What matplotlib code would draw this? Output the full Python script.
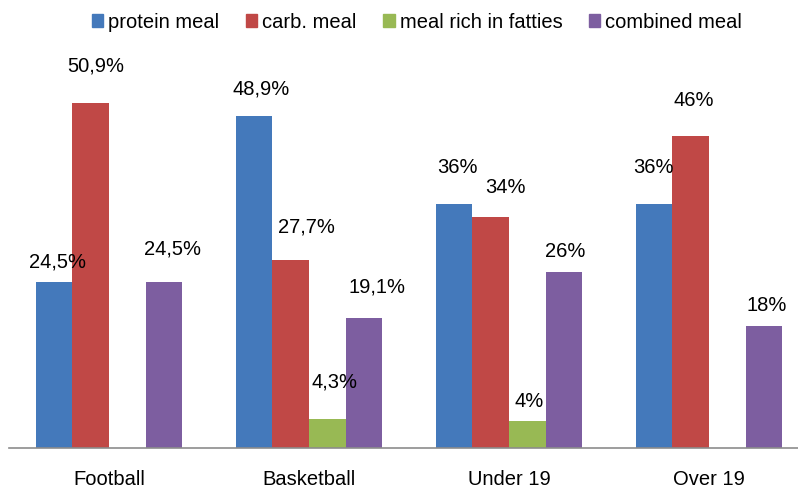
import numpy as np
import matplotlib.pyplot as plt
from matplotlib.patches import Patch

plt.rcParams['font.family'] = ['Liberation Sans', 'DejaVu Sans']

# groups and series values (%)
categories = ['Football', 'Basketball', 'Under 19', 'Over 19']
series_names = ['protein meal', 'carb. meal', 'meal rich in fatties', 'combined meal']
protein = [24.5, 48.9, 36, 36]
carb = [50.9, 27.7, 34, 46]
fat = [None, 4.3, 4, None]
combined = [24.5, 19.1, 26, 18]
labels = [
    ['24,5%', '48,9%', '36%', '36%'],
    ['50,9%', '27,7%', '34%', '46%'],
    [None, '4,3%', '4%', None],
    ['24,5%', '19,1%', '26%', '18%'],
]
colors = ['#4479bb', '#c04846', '#98b954', '#7d5ea0']

# label placement (pixels: right shift, gap above bar top)
label_offsets = [
    [(3, 14), (7, 22), (3, 31), (-1, 31)],
    [(5, 31), (16, 28), (15, 24), (3, 30)],
    [None, (7, 31), (2, 14), None],
    [(9, 27), (13, 26), (1, 15), (3, 15)],
]

fig = plt.figure(figsize=(7.98, 4.88), dpi=100)
ax = fig.add_axes([9 / 798, 40 / 488, 800 / 798, 407 / 488])

x = np.arange(len(categories))
w = 0.183
all_series = [protein, carb, fat, combined]
for i, vals in enumerate(all_series):
    pos = x + (i - 1.5) * w
    for j, v in enumerate(vals):
        if v is None:
            continue
        ax.bar(pos[j], v, width=w, color=colors[i], linewidth=0, zorder=1)
for i, vals in enumerate(all_series):
    pos = x + (i - 1.5) * w
    for j, v in enumerate(vals):
        if v is None:
            continue
        dx, dy = label_offsets[i][j]
        ax.annotate(labels[i][j], (pos[j], v), xytext=(dx, dy), textcoords='offset pixels',
                    ha='center', va='baseline', fontsize=14.5, zorder=3)

ax.set_xlim(-0.5, len(categories) - 0.5)
ax.set_ylim(0, 60)
ax.set_xticks(x)
ax.set_xticklabels(categories, fontsize=14.5)
ax.tick_params(axis='x', length=0, pad=16)
ax.set_yticks([])
for s in ['top', 'right', 'left']:
    ax.spines[s].set_visible(False)
ax.spines['bottom'].set_color('#8c8c8c')
ax.spines['bottom'].set_linewidth(1.2)

handles = [Patch(color=c, label=n) for c, n in zip(colors, series_names)]
fig.legend(handles=handles, loc='center', bbox_to_anchor=(417 / 798, 1 - 22 / 488), ncol=4,
           frameon=False, fontsize=14.5, handlelength=0.58, handleheight=0.58,
           handletextpad=0.25, columnspacing=1.3, borderaxespad=0, borderpad=0)

fig.savefig('out.png', dpi=100)
